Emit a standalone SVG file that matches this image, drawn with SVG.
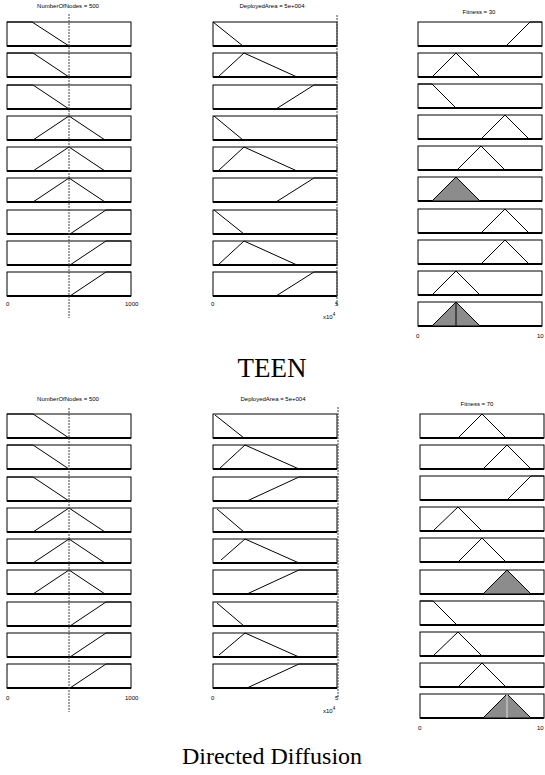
<svg xmlns="http://www.w3.org/2000/svg" xmlns:xlink="http://www.w3.org/1999/xlink" width="545" height="775" viewBox="0 0 545 775">
<style>
.mf{fill:none;stroke:#000;stroke-width:1}
.sh{fill:#8c8c8c;stroke:#000;stroke-width:1}
.vl{stroke:#444;stroke-width:1;stroke-dasharray:2,1}
.tt{font-family:"Liberation Sans",Arial,sans-serif;font-size:6px;fill:#000;text-anchor:middle}
.ax{font-family:"Liberation Sans",Arial,sans-serif;font-size:6px;fill:#000}
.cap{font-family:"Liberation Serif","Times New Roman",serif;fill:#000;text-anchor:middle}
</style>
<defs>
<g id="bx"><rect x="0" y="0" width="124" height="24" fill="#fff" stroke="#000" stroke-width="1"/><line x1="0" y1="24" x2="124" y2="24" stroke="#000" stroke-width="2.2"/></g>
</defs>
<rect width="545" height="775" fill="#fff"/>

<g id="teen-col1">
<text class="tt" x="68" y="8">NumberOfNodes = 500</text>
<use xlink:href="#bx" x="7" y="22"/><use xlink:href="#bx" x="7" y="53"/><use xlink:href="#bx" x="7" y="85"/>
<use xlink:href="#bx" x="7" y="116"/><use xlink:href="#bx" x="7" y="147"/><use xlink:href="#bx" x="7" y="178"/>
<use xlink:href="#bx" x="7" y="210"/><use xlink:href="#bx" x="7" y="241"/><use xlink:href="#bx" x="7" y="272"/>
<polyline class="mf" points="7,22 32,22 69,46"/>
<polyline class="mf" points="7,53 33,53 69,77"/>
<polyline class="mf" points="7,85 33,85 69,109"/>
<polyline class="mf" points="33,140 69,116 105,140"/>
<polyline class="mf" points="33,171 69,147 105,171"/>
<polyline class="mf" points="33,202 69,178 105,202"/>
<polyline class="mf" points="70,234 106,210 131,210"/>
<polyline class="mf" points="70,265 106,241 131,241"/>
<polyline class="mf" points="70,296 106,272 131,272"/>
<line class="vl" x1="69" y1="14" x2="69" y2="318"/>
<text class="ax" x="6" y="306">0</text>
<text class="ax" x="125" y="306">1000</text>
</g>

<g id="teen-col2">
<text class="tt" x="272" y="8">DeployedArea = 5e+004</text>
<use xlink:href="#bx" x="213" y="22"/><use xlink:href="#bx" x="213" y="53"/><use xlink:href="#bx" x="213" y="85"/>
<use xlink:href="#bx" x="213" y="116"/><use xlink:href="#bx" x="213" y="147"/><use xlink:href="#bx" x="213" y="178"/>
<use xlink:href="#bx" x="213" y="210"/><use xlink:href="#bx" x="213" y="241"/><use xlink:href="#bx" x="213" y="272"/>
<polyline class="mf" points="213,22 243,46"/>
<polyline class="mf" points="218,77 244,53 297,77"/>
<polyline class="mf" points="276,109 314,85 337,85"/>
<polyline class="mf" points="214,116 243,140"/>
<polyline class="mf" points="218,171 244,147 297,171"/>
<polyline class="mf" points="276,202 314,178 337,178"/>
<polyline class="mf" points="214,210 244,234"/>
<polyline class="mf" points="218,265 244,241 297,265"/>
<polyline class="mf" points="276,296 314,272 337,272"/>
<line class="vl" x1="337" y1="15" x2="337" y2="305"/>
<text class="ax" x="211" y="306">0</text>
<text class="ax" x="335" y="306">5</text>
<text class="ax" x="323" y="319">x10<tspan dy="-3" font-size="4.5">4</tspan></text>
</g>

<g id="teen-col3">
<text class="tt" x="479" y="14">Fitness = 30</text>
<use xlink:href="#bx" x="418" y="22"/><use xlink:href="#bx" x="418" y="53"/><use xlink:href="#bx" x="418" y="84"/>
<use xlink:href="#bx" x="418" y="115"/><use xlink:href="#bx" x="418" y="146"/><use xlink:href="#bx" x="418" y="177"/>
<use xlink:href="#bx" x="418" y="209"/><use xlink:href="#bx" x="418" y="240"/><use xlink:href="#bx" x="418" y="271"/>
<use xlink:href="#bx" x="418" y="302"/>
<polyline class="mf" points="506,46 530,22 542,22"/>
<polyline class="mf" points="432,77 456,53 480,77"/>
<polyline class="mf" points="418,84 432,84 456,108"/>
<polyline class="mf" points="481,139 505,115 529,139"/>
<polyline class="mf" points="457,170 481,146 505,170"/>
<polygon class="sh" points="432,201 456,177 480,201"/>
<polyline class="mf" points="481,233 505,209 529,233"/>
<polyline class="mf" points="481,264 505,240 529,264"/>
<polyline class="mf" points="432,295 456,271 480,295"/>
<polygon class="sh" points="432,326 456,302 480,326"/>
<line x1="456" y1="302" x2="456" y2="326" stroke="#000" stroke-width="1"/>
<text class="ax" x="416" y="338">0</text>
<text class="ax" x="537" y="338">10</text>
</g>

<text class="cap" x="272" y="377" font-size="27">TEEN</text>

<g id="dd-col1">
<text class="tt" x="68" y="401">NumberOfNodes = 500</text>
<use xlink:href="#bx" x="7" y="414"/><use xlink:href="#bx" x="7" y="445"/><use xlink:href="#bx" x="7" y="477"/>
<use xlink:href="#bx" x="7" y="508"/><use xlink:href="#bx" x="7" y="539"/><use xlink:href="#bx" x="7" y="570"/>
<use xlink:href="#bx" x="7" y="602"/><use xlink:href="#bx" x="7" y="633"/><use xlink:href="#bx" x="7" y="664"/>
<polyline class="mf" points="7,414 33,414 69,438"/>
<polyline class="mf" points="7,445 33,445 69,469"/>
<polyline class="mf" points="7,477 33,477 69,501"/>
<polyline class="mf" points="33,532 69,508 105,532"/>
<polyline class="mf" points="33,563 69,539 105,563"/>
<polyline class="mf" points="33,594 69,570 105,594"/>
<polyline class="mf" points="70,626 106,602 131,602"/>
<polyline class="mf" points="70,657 106,633 131,633"/>
<polyline class="mf" points="70,688 106,664 131,664"/>
<line class="vl" x1="69" y1="408" x2="69" y2="712"/>
<text class="ax" x="6" y="700">0</text>
<text class="ax" x="125" y="700">1000</text>
</g>

<g id="dd-col2">
<text class="tt" x="273" y="401">DeployedArea = 5e+004</text>
<use xlink:href="#bx" x="213" y="414"/><use xlink:href="#bx" x="213" y="445"/><use xlink:href="#bx" x="213" y="477"/>
<use xlink:href="#bx" x="213" y="508"/><use xlink:href="#bx" x="213" y="539"/><use xlink:href="#bx" x="213" y="570"/>
<use xlink:href="#bx" x="213" y="602"/><use xlink:href="#bx" x="213" y="633"/><use xlink:href="#bx" x="213" y="664"/>
<polyline class="mf" points="215,415 244,438"/>
<polyline class="mf" points="219,469 245,445 299,469"/>
<polyline class="mf" points="247,501 299,477 337,477"/>
<polyline class="mf" points="217,509 244,532"/>
<polyline class="mf" points="221,560 245,539 299,563"/>
<polyline class="mf" points="247,594 299,570 337,570"/>
<polyline class="mf" points="217,603 244,626"/>
<polyline class="mf" points="219,655 245,633 299,657"/>
<polyline class="mf" points="247,688 299,664 337,664"/>
<line class="vl" x1="338" y1="407" x2="338" y2="698"/>
<text class="ax" x="211" y="700">0</text>
<text class="ax" x="335" y="700">5</text>
<text class="ax" x="323" y="713">x10<tspan dy="-3" font-size="4.5">4</tspan></text>
</g>

<g id="dd-col3">
<text class="tt" x="477" y="406">Fitness = 70</text>
<use xlink:href="#bx" x="420" y="414"/><use xlink:href="#bx" x="420" y="445"/><use xlink:href="#bx" x="420" y="476"/>
<use xlink:href="#bx" x="420" y="507"/><use xlink:href="#bx" x="420" y="538"/><use xlink:href="#bx" x="420" y="570"/>
<use xlink:href="#bx" x="420" y="601"/><use xlink:href="#bx" x="420" y="632"/><use xlink:href="#bx" x="420" y="663"/>
<use xlink:href="#bx" x="420" y="694"/>
<polyline class="mf" points="458,438 482,414 506,438"/>
<polyline class="mf" points="483,469 507,445 531,469"/>
<polyline class="mf" points="507,500 531,476 544,476"/>
<polyline class="mf" points="433,531 458,507 482,531"/>
<polyline class="mf" points="458,562 482,538 506,562"/>
<polygon class="sh" points="483,594 507,570 531,594"/>
<polyline class="mf" points="420,601 433,601 457,625"/>
<polyline class="mf" points="433,656 458,632 482,656"/>
<polyline class="mf" points="458,687 482,663 506,687"/>
<polygon class="sh" points="483,718 507,694 531,718"/>
<line x1="507" y1="694" x2="507" y2="718" stroke="#ddd" stroke-width="1"/>
<text class="ax" x="418" y="730">0</text>
<text class="ax" x="537" y="730">10</text>
</g>

<text class="cap" x="272" y="764" font-size="24">Directed Diffusion</text>
</svg>
